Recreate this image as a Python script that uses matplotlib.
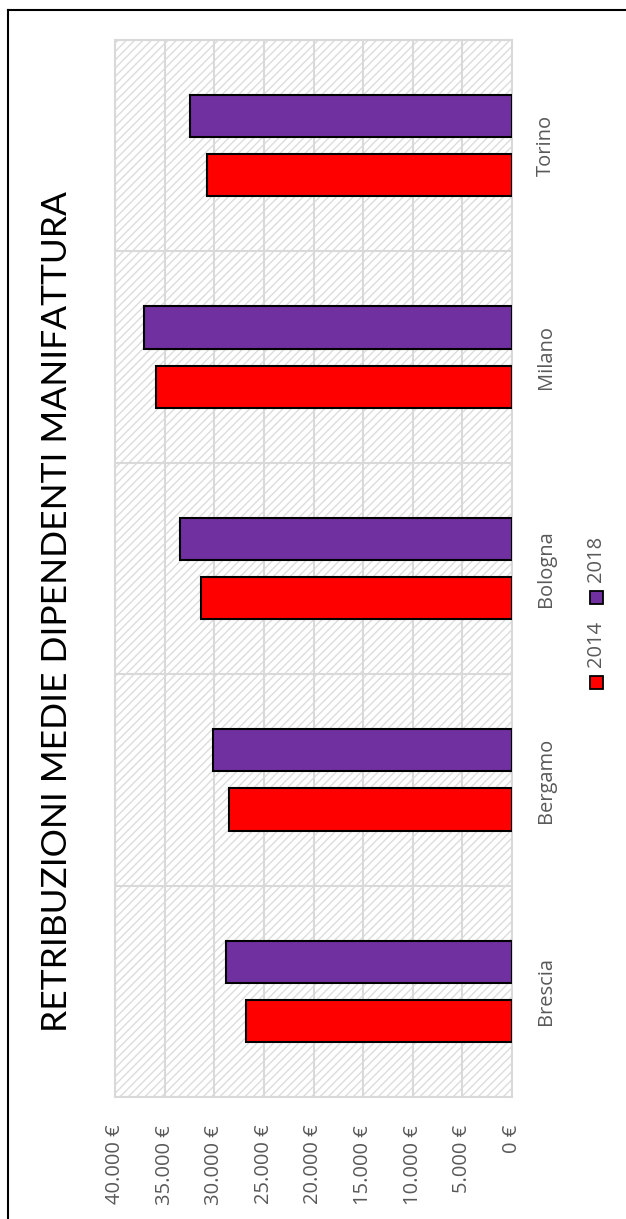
import matplotlib.pyplot as plt
import matplotlib.ticker as mticker
from matplotlib.patches import Rectangle
from matplotlib.lines import Line2D
import numpy as np

plt.rcParams['font.family'] = ['Open Sans', 'DejaVu Sans']
plt.rcParams['hatch.color'] = '#dcdcdc'
plt.rcParams['hatch.linewidth'] = 1.0

# dati (euro)
citta = ['Brescia', 'Bergamo', 'Bologna', 'Milano', 'Torino']
valori_2014 = [26800, 28500, 31300, 35900, 30700]
valori_2018 = [28800, 30100, 33500, 37100, 32400]
serie = ['2014', '2018']
colori = ['#ff0000', '#7030a0']

fig = plt.figure(figsize=(6.26, 12.19), dpi=100)
ax = fig.add_axes([115 / 626, 1 - 1097 / 1219, 397 / 626, 1057 / 1219])

# sfondo tratteggiato
ax.add_patch(Rectangle((0, 0), 1, 1, transform=ax.transAxes, facecolor='white',
                       edgecolor='#dcdcdc', hatch='////', lw=0, zorder=0))

y = np.arange(len(citta))
h = 0.2
ax.barh(y - 0.14, valori_2014, height=h, color=colori[0], edgecolor='black', lw=1.5, zorder=3)
ax.barh(y + 0.14, valori_2018, height=h, color=colori[1], edgecolor='black', lw=1.5, zorder=3)

ax.set_xlim(40000, 0)
ax.set_ylim(-0.5, len(citta) - 0.5)
ax.xaxis.set_major_locator(mticker.MultipleLocator(5000))
ax.xaxis.set_major_formatter(mticker.FuncFormatter(
    lambda v, p: '0 €' if v == 0 else f'{int(v):,} €'.replace(',', '.')))
ax.set_yticks(y)
ax.set_yticklabels(citta)
ax.set_yticks(np.arange(-0.5, len(citta), 1), minor=True)
ax.yaxis.tick_right()

ax.grid(axis='x', which='major', color='#d9d9d9', lw=1.5, zorder=1)
ax.grid(axis='y', which='minor', color='#d9d9d9', lw=1.5, zorder=1)
ax.tick_params(axis='x', length=0, labelrotation=90, pad=20, labelsize=14.5, labelcolor='#595959')
ax.tick_params(axis='y', which='both', length=0, labelrotation=90, pad=17,
               labelsize=14.5, labelcolor='#595959')
for lbl in ax.get_yticklabels():
    lbl.set_va('center')
for s in ax.spines.values():
    s.set_color('#d9d9d9')
    s.set_linewidth(1.5)

fig.text(57 / 626, 1 - 612 / 1219, 'RETRIBUZIONI MEDIE DIPENDENTI MANIFATTURA',
         rotation=90, ha='center', va='center', fontsize=25.5, color='black',
         family=['Lato', 'DejaVu Sans'])

# legenda ruotata
leg_x = 596 / 626
for nome, col, yy in [(serie[0], colori[0], 682), (serie[1], colori[1], 597)]:
    fig.patches.append(Rectangle((leg_x - 6.5 / 626, 1 - (yy + 6.5) / 1219), 13 / 626, 13 / 1219,
                                 transform=fig.transFigure, facecolor=col,
                                 edgecolor='black', lw=1.3))
    fig.text(leg_x, 1 - (yy - 15) / 1219, nome, rotation=90, ha='center', va='bottom',
             fontsize=14.5, color='#595959')

# cornice
fig.add_artist(Line2D([8 / 626, 8 / 626], [0, 1 - 10 / 1219], color='black', lw=1.5))
fig.add_artist(Line2D([8 / 626, 1], [1 - 10 / 1219, 1 - 10 / 1219], color='black', lw=1.5))

plt.savefig('out.png', dpi=100)
